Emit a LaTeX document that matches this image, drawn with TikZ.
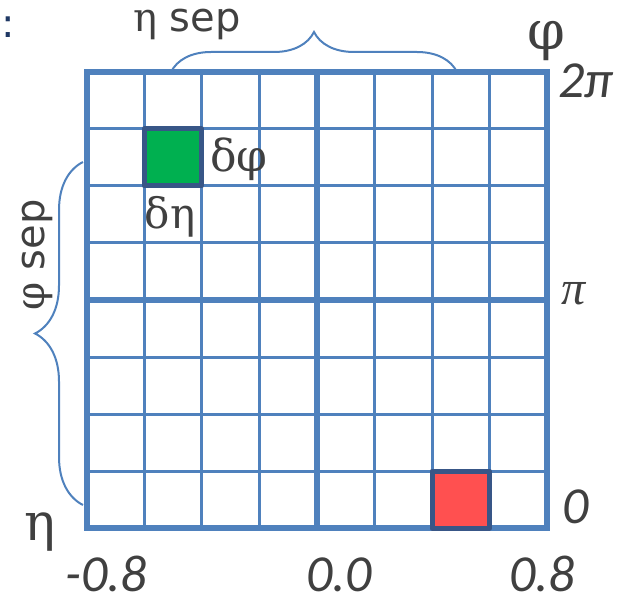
\documentclass[tikz,border=0pt]{standalone}
\usepackage{fontspec}
\setmainfont{Liberation Serif}
\newfontfamily\sepfont{DejaVu Sans}
\newfontfamily\numfont{Carlito}
\newfontfamily\grfont{DejaVu Serif}
\usetikzlibrary{decorations.pathreplacing}
\definecolor{rejilla}{RGB}{79,129,189}
\definecolor{borde}{RGB}{56,86,135}
\definecolor{verdec}{RGB}{0,176,80}
\definecolor{rojoc}{RGB}{255,80,80}
\definecolor{texto}{RGB}{64,64,64}
\definecolor{marino}{RGB}{31,56,100}
\tikzset{
  fina/.style={rejilla, line width=3pt},
  gruesa/.style={rejilla, line width=6pt},
  celda/.style={draw=borde, line width=5pt, line join=round},
  llave/.style={rejilla, line width=2pt, decorate},
  eje/.style={text=texto, inner sep=0pt, font=\numfont\itshape\fontsize{52}{52}\selectfont},
  grieg/.style={text=texto, inner sep=0pt, font=\grfont\fontsize{54}{54}\selectfont},
  rot/.style={text=texto, inner sep=0pt, font=\sepfont\fontsize{40}{40}\selectfont},
}
\begin{document}
\begin{tikzpicture}[x=1pt, y=1pt]
  \useasboundingbox (0,0) rectangle (618,603);
  % rejilla 8x8
  \begin{scope}[shift={(86.5,75)}, x=57.6pt, y=57pt]
    \foreach \i in {1,2,3,5,6,7} {
      \draw[fina] (\i,0) -- (\i,8);
      \draw[fina] (0,\i) -- (8,\i);
    }
    \draw[gruesa] (4,0) -- (4,8);
    \draw[gruesa] (0,4) -- (8,4);
    \draw[gruesa] (0,0) rectangle (8,8);
    \draw[celda, fill=verdec] (1,6) rectangle (2,7);
    \draw[celda, fill=rojoc] (6,0) rectangle (7,1);
  \end{scope}
  % llaves
  \coordinate (ti) at (171,531);
  \coordinate (td) at (457,531);
  \coordinate (la) at (83,98);
  \coordinate (lb) at (83,441);
  \draw[llave, decoration={brace, amplitude=40pt}] (ti) -- (td);
  \draw[llave, decoration={brace, amplitude=48pt}] (la) -- (lb);
  % textos
  \node[text=marino, font=\sepfont\fontsize{40}{40}\selectfont, inner sep=0pt] (dosp) at (8,576) {:};
  \node[rot, anchor=base] (etasep) at (187,571) {{\grfont η} sep};
  \node[rot, rotate=90] (phisep) at (37,348) {{\grfont φ} sep};
  \node[grieg] (phi) at (546,562) {φ};
  \node[grieg, anchor=base, font=\grfont\fontsize{52}{52}\selectfont] (eta) at (40,63) {η};
  \node[grieg, font=\grfont\fontsize{44}{44}\selectfont] (dphi) at (239,444) {δφ};
  \node[grieg, font=\grfont\fontsize{42}{42}\selectfont] (deta) at (170,386) {δη};
  \node[eje, anchor=base] (dospi) at (586,505) {2π};
  \node[text=texto, inner sep=0pt, font=\itshape\fontsize{48}{48}\selectfont] (pi) at (574,309) {π};
  \node[eje, anchor=base] (cero) at (576,80) {0};
  \node[eje, anchor=base] (m08) at (106,12) {-0.8};
  \node[eje, anchor=base] (c00) at (339,12) {0.0};
  \node[eje, anchor=base] (p08) at (542,12) {0.8};
\end{tikzpicture}
\end{document}
